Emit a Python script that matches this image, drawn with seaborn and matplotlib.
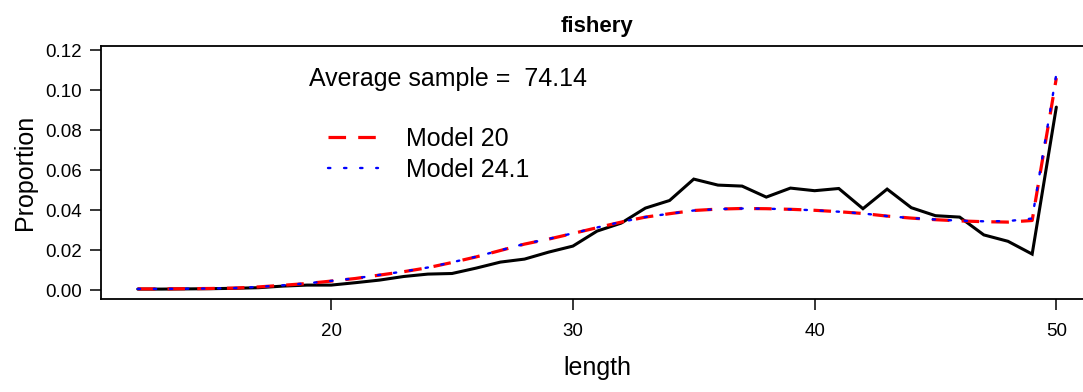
import numpy as np
import pandas as pd
import matplotlib
matplotlib.use("Agg")
import matplotlib.pyplot as plt
import seaborn as sns

# Length bins and proportions at length
length = list(range(12, 51))
observed = [0.0005, 0.0005, 0.0006, 0.0007, 0.0009, 0.0012, 0.0020, 0.0025, 0.0025,
            0.0037, 0.0050, 0.0068, 0.0080, 0.0083, 0.0110, 0.0140, 0.0155, 0.0190,
            0.0220, 0.0295, 0.0335, 0.0410, 0.0448, 0.0555, 0.0525, 0.0520, 0.0465,
            0.0510, 0.0497, 0.0508, 0.0407, 0.0505, 0.0412, 0.0372, 0.0365, 0.0276,
            0.0244, 0.0180, 0.0915]
model_20 = [0.0006, 0.0006, 0.0007, 0.0008, 0.0010, 0.0016, 0.0024, 0.0033, 0.0045,
            0.0058, 0.0075, 0.0092, 0.0112, 0.0138, 0.0166, 0.0198, 0.0230, 0.0255,
            0.0283, 0.0312, 0.0340, 0.0365, 0.0382, 0.0398, 0.0405, 0.0408, 0.0407,
            0.0404, 0.0399, 0.0392, 0.0383, 0.0370, 0.0360, 0.0352, 0.0346, 0.0342,
            0.0340, 0.0348, 0.1060]
model_24_1 = [0.0006, 0.0006, 0.0007, 0.0008, 0.0010, 0.0016, 0.0024, 0.0034, 0.0046,
              0.0059, 0.0076, 0.0093, 0.0113, 0.0139, 0.0167, 0.0199, 0.0231, 0.0256,
              0.0284, 0.0313, 0.0341, 0.0365, 0.0382, 0.0398, 0.0405, 0.0408, 0.0407,
              0.0404, 0.0399, 0.0392, 0.0383, 0.0370, 0.0360, 0.0353, 0.0347, 0.0344,
              0.0345, 0.0358, 0.1080]
series_names = ["Model 20", "Model 24.1"]
avg_sample = 74.14
panel_title = "fishery"

sns.set_style("ticks")
plt.rcParams["font.family"] = ["Liberation Sans", "DejaVu Sans"]
plt.rcParams["text.color"] = "black"
plt.rcParams["axes.labelcolor"] = "black"

NARROW = ["Liberation Sans Narrow", "Liberation Sans"]

fig = plt.figure(figsize=(10.83, 3.92), dpi=100)
ax = fig.add_axes([0.0933, 0.237, 0.916, 0.6454])

df = pd.DataFrame({"length": length, "obs": observed,
                   "m20": model_20, "m241": model_24_1})

sns.lineplot(data=df, x="length", y="obs", ax=ax, color="black", lw=2.2,
             solid_joinstyle="miter")
sns.lineplot(data=df, x="length", y="m20", ax=ax, color="#ff0000", lw=2.3,
             linestyle=(0, (5.5, 3.8)), label=series_names[0])
sns.lineplot(data=df, x="length", y="m241", ax=ax, color="#0000ff", lw=1.7,
             linestyle=(0, (1, 5.8)), dash_capstyle="round", label=series_names[1])

ax.set_xlim(10.48, 51.52)
ax.set_ylim(-0.0045, 0.122)
ax.set_xticks([20, 30, 40, 50])
ax.set_yticks(np.arange(0, 0.121, 0.02))
ax.set_yticklabels([f"{v:.2f}" for v in np.arange(0, 0.121, 0.02)])

for s in ax.spines.values():
    s.set_visible(True)
    s.set_color("black")
    s.set_linewidth(1.3)
ax.tick_params(axis="both", direction="out", length=8, width=1.1, color="black",
               labelcolor="black")
ax.tick_params(axis="y", labelsize=13.5, pad=6)
ax.tick_params(axis="x", labelsize=13.5, pad=9)
for lab in ax.get_xticklabels():
    lab.set_family(NARROW)

ax.set_xlabel("length", fontsize=18, family=NARROW, labelpad=12)
ax.set_ylabel("Proportion", fontsize=18, labelpad=6)
ax.set_title(panel_title, fontsize=16, fontweight="bold", pad=10)

ax.text(0.21, 0.87, f"Average sample =  {avg_sample:.2f}", transform=ax.transAxes,
        fontsize=18, va="center", ha="left")

leg = ax.legend(loc="upper left", bbox_to_anchor=(0.229, 0.68), frameon=False,
                fontsize=18, handlelength=2.0, handletextpad=1.1, labelspacing=0.27,
                borderaxespad=0, borderpad=0)

fig.savefig("out.png", dpi=100)
